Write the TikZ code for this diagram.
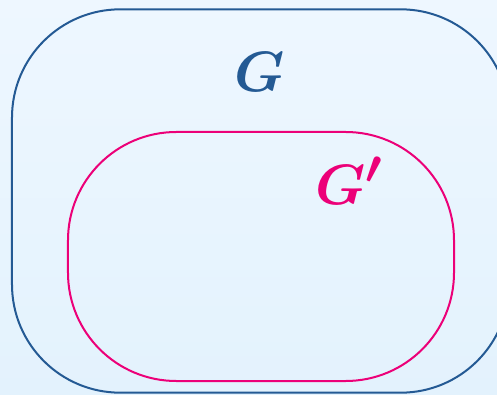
\documentclass[tikz,border=0pt]{standalone}
\usepackage{graphicx}
\usepackage{bm}
\definecolor{gblue}{RGB}{36,90,148}
\definecolor{gpink}{RGB}{236,0,120}
\newcommand{\biglabel}[1]{\scalebox{1.95}{\Huge$\bm{#1}$}}
\begin{document}
\begin{tikzpicture}[x=0.03cm, y=-0.03cm,
  every node/.style={inner sep=0pt, outer sep=0pt},
  set/.style={draw, line width=0.06cm, rounded corners=3.25cm}]
  \clip (0,0) rectangle (497,395);
  \shade[top color={rgb,255:red,238;green,247;blue,255}, bottom color={rgb,255:red,227;green,242;blue,253}]
    (0,0) rectangle (497,395);
  \node[set, gblue, minimum width=14.91cm, minimum height=11.5cm] (outer) at (260.5,201) {};
  \node[set, gpink, minimum width=11.58cm, minimum height=7.47cm] (inner) at (261,256.5) {};
  \node[text=gblue] (G) at (260,72) {\biglabel{G}};
  \node[text=gpink] (Gp) at (349,181) {\biglabel{G'}};
\end{tikzpicture}
\end{document}
